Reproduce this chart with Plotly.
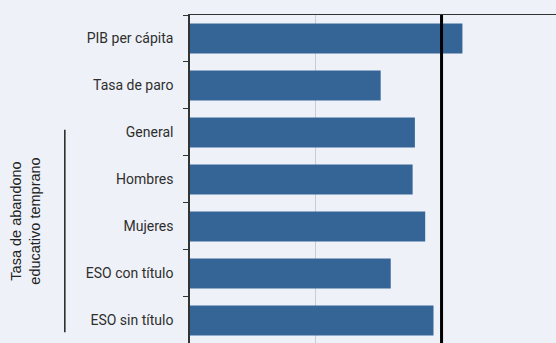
import plotly.graph_objects as go

# Indicators (index, reference = 100)
categories = ["PIB per cápita", "Tasa de paro", "General", "Hombres",
              "Mujeres", "ESO con título", "ESO sin título"]
values = [108.3, 75.8, 89.4, 88.5, 93.5, 79.8, 96.8]
reference_value = 100
group_label = "Tasa de abandono<br>educativo temprano"

BG = "#eef2f8"
BAR = "#356497"

fig = go.Figure()
fig.add_trace(go.Bar(
    x=values, y=categories, orientation="h",
    marker=dict(color=BAR, line=dict(width=0)),
    width=0.64, hoverinfo="x+y",
))

# Reference line at 100
fig.add_shape(type="line", xref="x", yref="paper",
              x0=reference_value, x1=reference_value, y0=0, y1=1,
              line=dict(color="black", width=3), layer="above")

# Bracket and label for the early-school-leaving group
fig.add_shape(type="line", xref="paper", yref="paper",
              x0=-0.342, x1=-0.342, y0=0.033, y1=0.65,
              line=dict(color="#222", width=1.5))
fig.add_annotation(text=group_label, xref="paper", yref="paper",
                   x=-0.448, y=0.37, xanchor="center", yanchor="middle",
                   textangle=-90, showarrow=False,
                   font=dict(family="Liberation Sans, Arial", size=14.5, color="#222"),
                   align="center")

fig.update_layout(
    width=556, height=343,
    margin=dict(l=190, r=0, t=15, b=0),
    paper_bgcolor=BG, plot_bgcolor=BG,
    showlegend=False, bargap=0.36,
    xaxis=dict(range=[0, 145.5], dtick=50, showticklabels=False,
               showgrid=True, gridcolor="#c9ccd2", gridwidth=1,
               zeroline=False, side="top", showline=True,
               linecolor="#333", linewidth=1.2, ticks=""),
    yaxis=dict(categoryorder="array", categoryarray=categories,
               range=[6.48, -0.5], tickson="boundaries",
               ticks="outside", ticklen=5, tickcolor="#333", tickwidth=1.2,
               showline=True, linecolor="#333", linewidth=1.5,
               showgrid=False, ticklabelstandoff=12,
               tickfont=dict(family="Roboto", size=14, color="#2e2e2e")),
)

fig.write_html("out.html")
